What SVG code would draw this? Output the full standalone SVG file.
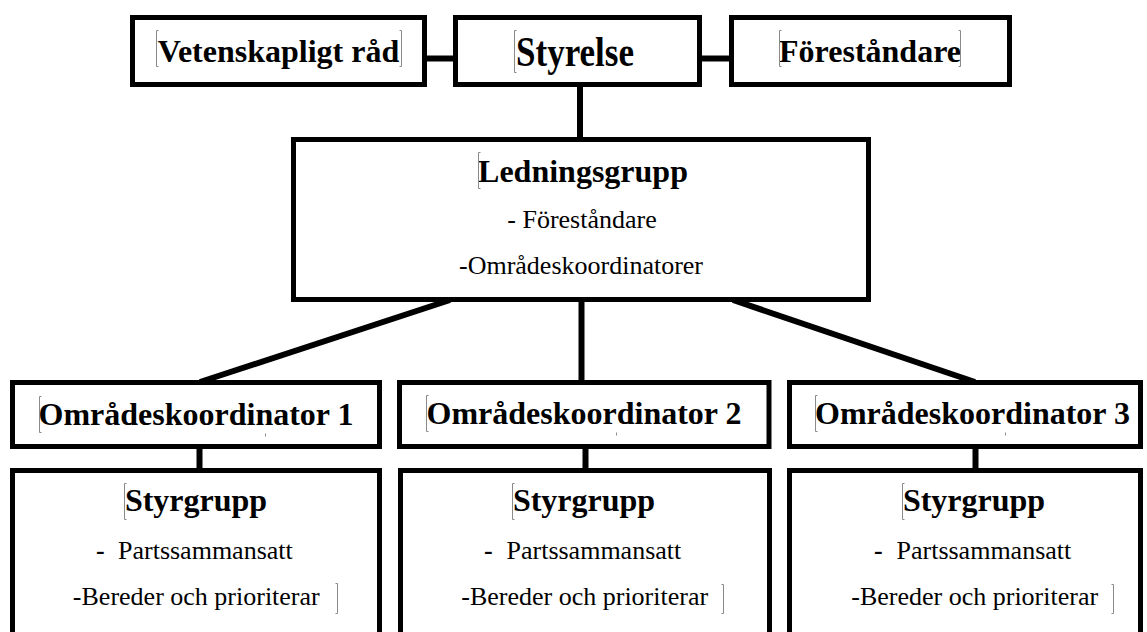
<svg xmlns="http://www.w3.org/2000/svg" width="1147" height="632" viewBox="0 0 1147 632">
<style>
.box{fill:#fff;stroke:#000;stroke-width:5}
.con{stroke:#000;stroke-width:6;fill:none}
.t{font-family:"Liberation Serif","Times New Roman",serif;fill:#000}
.b{font-weight:bold;font-size:32px}
.r{font-size:26px}
.m{text-anchor:middle}
.mk{stroke:#8a8a8a;stroke-width:1;fill:none}
</style>
<rect width="1147" height="632" fill="#fff"/>
<g id="connectors">
<line class="con" x1="427" y1="58.5" x2="453" y2="58.5"/>
<line class="con" x1="702" y1="58.5" x2="729" y2="58.5"/>
<line class="con" x1="580" y1="87" x2="580" y2="137"/>
<line class="con" x1="581.5" y1="302" x2="581.5" y2="380"/>
<line class="con" x1="450" y1="300" x2="200" y2="382"/>
<line class="con" x1="733" y1="300" x2="975" y2="382"/>
<line class="con" x1="199.5" y1="449" x2="199.5" y2="468"/>
<line class="con" x1="585.5" y1="449" x2="585.5" y2="468"/>
<line class="con" x1="975.5" y1="449" x2="975.5" y2="468"/>
</g>
<g id="vetenskapligt-rad">
<rect class="box" x="132.5" y="17.5" width="292" height="67"/>
<text class="t b m" x="278.5" y="62">Vetenskapligt råd</text>
</g>
<g id="styrelse">
<rect class="box" x="455.5" y="17.5" width="244" height="67"/>
<text class="t m" x="575" y="66" font-weight="bold" font-size="42" textLength="118" lengthAdjust="spacingAndGlyphs">Styrelse</text>
</g>
<g id="forestandare">
<rect class="box" x="731.5" y="17.5" width="278" height="67"/>
<text class="t b m" x="870" y="62">Föreståndare</text>
</g>
<g id="ledningsgrupp">
<rect class="box" x="293.5" y="139.5" width="575" height="160"/>
<text class="t b m" x="583" y="182">Ledningsgrupp</text>
<text class="t r m" x="582" y="228">- Föreståndare</text>
<text class="t r m" x="581" y="273.5">-Områdeskoordinatorer</text>
</g>
<g id="omradeskoordinator-1">
<rect class="box" x="12.5" y="382.5" width="367" height="64"/>
<text class="t b m" x="196" y="424.5">Områdeskoordinator 1</text>
</g>
<g id="omradeskoordinator-2">
<rect class="box" x="399.5" y="382.5" width="369.5" height="64"/>
<text class="t b m" x="584" y="424">Områdeskoordinator 2</text>
</g>
<g id="omradeskoordinator-3">
<rect class="box" x="789.5" y="382.5" width="351" height="64"/>
<text class="t b m" x="972.5" y="424">Områdeskoordinator 3</text>
</g>
<g id="styrgrupp-1">
<rect class="box" x="12.5" y="470.5" width="367" height="200"/>
<text class="t b m" x="196" y="511">Styrgrupp</text>
<text class="t r" y="558.5"><tspan x="96" font-weight="bold">-</tspan><tspan x="118">Partssammansatt</tspan></text>
<text class="t r m" x="196.3" y="604.5">-Bereder och prioriterar</text>
</g>
<g id="styrgrupp-2">
<rect class="box" x="400.5" y="470.5" width="369" height="200"/>
<text class="t b m" x="584" y="511">Styrgrupp</text>
<text class="t r" y="558.5"><tspan x="484" font-weight="bold">-</tspan><tspan x="506.5">Partssammansatt</tspan></text>
<text class="t r m" x="584.7" y="604.5">-Bereder och prioriterar</text>
</g>
<g id="styrgrupp-3">
<rect class="box" x="789.5" y="470.5" width="351" height="200"/>
<text class="t b m" x="974" y="511">Styrgrupp</text>
<text class="t r" y="558.5"><tspan x="874" font-weight="bold">-</tspan><tspan x="896.5">Partssammansatt</tspan></text>
<text class="t r m" x="974.7" y="604.5">-Bereder och prioriterar</text>
</g>
<g id="text-boundary-marks">
<path class="mk" d="M158.5,30.5h-2v36h2M399.5,30.5h2v36h-2"/>
<path class="mk" d="M516.5,30.5h-2v42h2"/>
<path class="mk" d="M781.5,30.5h-2v36h2M958.5,30.5h2v36h-2"/>
<path class="mk" d="M480.5,152.5h-2v36h2"/>
<path class="mk" d="M41.5,396.5h-2v36h2M265.5,433.5v3"/>
<path class="mk" d="M428.5,395.5h-2v36h2M616.5,432.5v3"/>
<path class="mk" d="M817.5,395.5h-2v36h2M1005.5,432.5v3"/>
<path class="mk" d="M126.5,483.5h-2v36h2M335.5,583.5h2v30h-2"/>
<path class="mk" d="M514.5,483.5h-2v36h2M721.5,584.5h2v29h-2"/>
<path class="mk" d="M904.5,483.5h-2v36h2M1111.5,584.5h2v29h-2"/>
</g>
</svg>
